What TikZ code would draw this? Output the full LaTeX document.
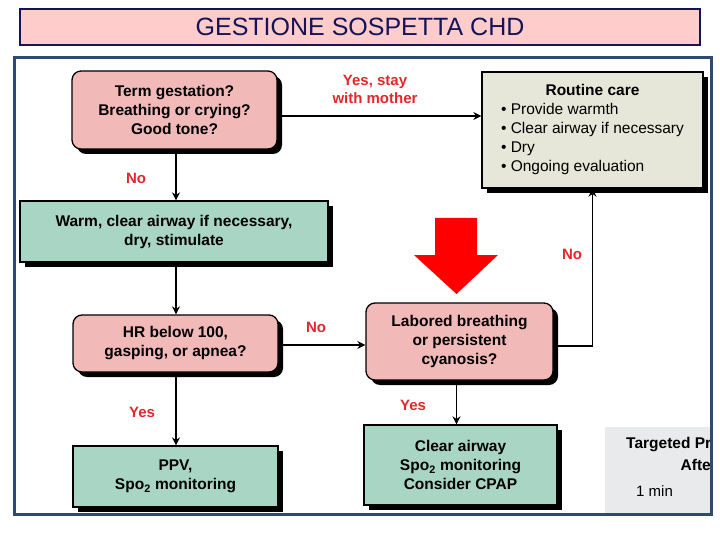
\documentclass[tikz,border=0pt]{standalone}
\usepackage{fontspec}
\setmainfont{Liberation Sans}
\usetikzlibrary{arrows.meta,positioning,shadows,calc}
\definecolor{chdnavy}{HTML}{14145A}
\definecolor{chdframe}{HTML}{2C4A74}
\definecolor{chdtitle}{HTML}{FFCCCC}
\definecolor{chdpink}{HTML}{F2B9B9}
\definecolor{chdgreen}{HTML}{A9D5C4}
\definecolor{chdbeige}{HTML}{E6E6D9}
\definecolor{chdred}{HTML}{E3262B}
\definecolor{chdpanel}{HTML}{E9EAEB}
\newcommand{\spotwo}{Spo\textsubscript{2}}

\begin{document}
\begin{tikzpicture}[x=1pt,y=-1pt,
  box/.style={draw=black, line width=1.3pt, inner sep=0pt, align=center,
    font=\fontsize{15.5}{19}\selectfont\bfseries,
    general shadow={fill=black, shadow xshift=5pt, shadow yshift=-5pt}},
  askbox/.style={box, rounded corners=9pt, fill=chdpink},
  actbox/.style={box, fill=chdgreen},
  flow/.style={-{Stealth[length=8pt,width=8pt]}, line width=1.3pt},
  answer/.style={text=chdred, font=\fontsize{15}{18}\selectfont\bfseries, align=center}]
  \useasboundingbox (0,0) rectangle (720,540);

  % title bar
  \node[draw=chdnavy, line width=2.5pt, fill=chdtitle, minimum width=680pt, minimum height=36pt,
    inner sep=0pt, text=chdnavy, font=\fontsize{25}{25}\selectfont] (title) at (360,27) {GESTIONE SOSPETTA CHD};

  % table seen at the right edge
  \begin{scope}
    \clip (605,427) rectangle (711,514);
    \fill[chdpanel] (605,427) rectangle (711,514);
    \node[anchor=west, inner sep=0pt, font=\fontsize{15.5}{17}\selectfont\bfseries] (target) at (626,445) {Targeted Pr};
    \node[anchor=east, inner sep=0pt, font=\fontsize{15.5}{17}\selectfont\bfseries] (after) at (711,465) {Afte};
    \node[anchor=west, inner sep=0pt, font=\fontsize{15}{17}\selectfont] (onemin) at (636,491) {1 min};
  \end{scope}

  % flow chart
  \node[askbox, minimum width=205pt, minimum height=78pt] (term) at (174.5,110) {Term gestation?\\Breathing or crying?\\Good tone?};
  \node[box, fill=chdbeige, minimum width=221pt, minimum height=116pt, font=\fontsize{15.5}{19}\selectfont] (routine) at (592.5,130)
    {\begin{tabular}{@{}l@{}}\multicolumn{1}{@{}c@{}}{\bfseries Routine care}\\
      \textbullet\ Provide warmth\\ \textbullet\ Clear airway if necessary\\
      \textbullet\ Dry\\ \textbullet\ Ongoing evaluation\end{tabular}};
  \node[actbox, minimum width=308pt, minimum height=61pt] (warm) at (174,231.5) {Warm, clear airway if necessary,\\dry, stimulate};
  \node[askbox, minimum width=205pt, minimum height=57pt] (hr) at (175.5,343.5) {HR below 100,\\gasping, or apnea?};
  \node[askbox, minimum width=187pt, minimum height=77pt] (labored) at (459.5,341.5) {Labored breathing\\or persistent\\cyanosis?};
  \node[actbox, minimum width=205pt, minimum height=61pt] (ppv) at (175.5,476.5) {PPV,\\\spotwo{} monitoring};
  \node[actbox, minimum width=193pt, minimum height=80pt] (clear) at (460.5,465) {Clear airway\\\spotwo{} monitoring\\Consider CPAP};

  % big red arrow
  \fill[red] (435,218) -- (477,218) -- (477,255) -- (498,255) -- (456.5,294) -- (414,255) -- (435,255) -- cycle;

  % connectors
  \draw[flow] ([yshift=-6pt]term.east) -- ([yshift=-6pt]term.east -| routine.west);
  \draw[flow] ([xshift=1.5pt]term.south) -- ([xshift=1.5pt]term.south |- warm.north);
  \draw[flow] ([xshift=0.5pt]hr.north |- warm.south) -- ([xshift=0.5pt]hr.north);
  \draw[flow] ([yshift=-1.5pt]hr.east) -- ([yshift=-1.5pt]hr.east -| labored.west);
  \draw[flow] ([xshift=0.5pt]hr.south) -- ([xshift=0.5pt]hr.south |- ppv.north);
  \draw[flow] ([xshift=-3pt]labored.south) -- ([xshift=-3pt]labored.south |- clear.north);
  \draw[flow] ([yshift=-4.5pt]labored.east) -| (routine.south);

  % answers
  \node[answer] (yesstay) at (375,89) {Yes, stay\\with mother};
  \node[answer] (noterm) at (136,178) {No};
  \node[answer] (nohr) at (316,327) {No};
  \node[answer] (yeshr) at (142,412) {Yes};
  \node[answer] (yeslab) at (413,405) {Yes};
  \node[answer] (nolab) at (572,254) {No};

  % frame
  \draw[chdframe, line width=3pt] (14,58) rectangle (711,514);
\end{tikzpicture}
\end{document}
